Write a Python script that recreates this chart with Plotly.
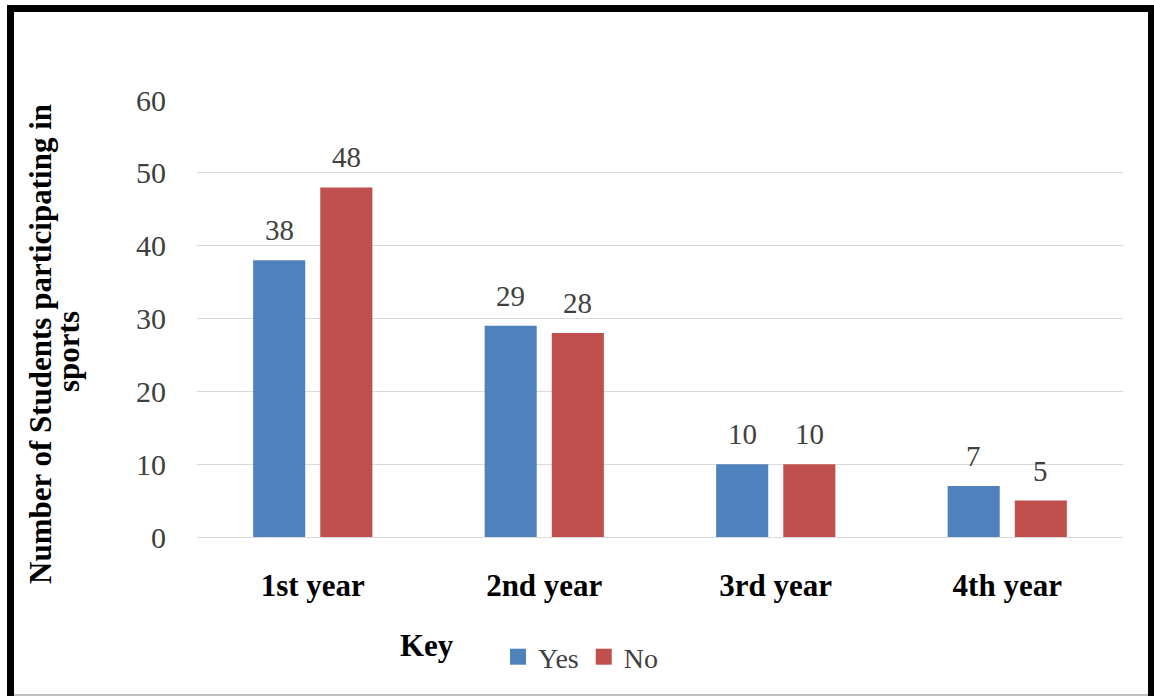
import plotly.graph_objects as go

years = ["1st year", "2nd year", "3rd year", "4th year"]
yes_counts = [38, 29, 10, 7]
no_counts = [48, 28, 10, 5]
y_ticks = [0, 10, 20, 30, 40, 50, 60]

W, H = 1154, 696
L, R, T, B = 197, 31, 100, 159
plot_w = W - L - R
plot_h = H - T - B

serif = "Liberation Serif"
grey_text = "#404040"
BLUE, RED = "#4F81BD", "#C0504D"

# bar geometry (fractions of a category slot)
BARGAP, GROUPGAP = 0.42, 0.224


def px_x(v):
    return (v - L) / plot_w


def px_y(v):
    return (T + plot_h - v) / plot_h


fig = go.Figure()
for name, counts, color in (("Yes", yes_counts, BLUE), ("No", no_counts, RED)):
    fig.add_trace(go.Bar(x=years, y=counts, name=name, legendgroup=name,
                         showlegend=False,
                         marker=dict(color=color, line=dict(width=0))))
    # legend entry with a larger square swatch
    fig.add_trace(go.Scatter(x=[None], y=[None], mode="markers", name=name,
                             legendgroup=name,
                             marker=dict(symbol="square", size=16, color=color)))

# value labels above each bar
slot_px = plot_w / len(years)
half_group = slot_px * (1 - BARGAP) / 2
for series, shift in ((yes_counts, -half_group / 2), (no_counts, half_group / 2)):
    for cat, val in zip(years, series):
        fig.add_annotation(
            x=cat, y=val, xref="x", yref="y",
            text=str(val), showarrow=False,
            xanchor="center", yanchor="bottom",
            xshift=shift, yshift=12,
            font=dict(family=serif, size=29, color=grey_text),
        )

fig.update_layout(
    width=W, height=H,
    margin=dict(l=L, r=R, t=T, b=B),
    paper_bgcolor="white", plot_bgcolor="white",
    barmode="group", bargap=BARGAP, bargroupgap=GROUPGAP,
    font=dict(family=serif, color=grey_text),
    showlegend=True,
    legend=dict(
        orientation="h",
        x=px_x(498), xanchor="left",
        y=px_y(657), yanchor="middle",
        font=dict(family=serif, size=28, color=grey_text),
        itemwidth=30, itemsizing="trace", tracegroupgap=0,
        bgcolor="rgba(0,0,0,0)",
    ),
    xaxis=dict(
        showgrid=False, showline=False, zeroline=False,
        ticks="", ticklabelstandoff=27,
        tickfont=dict(family=serif, size=31, color="black", weight="bold"),
    ),
    yaxis=dict(
        range=[0, 60], tickvals=y_ticks,
        showgrid=True, gridcolor="#D9D9D9", gridwidth=1,
        zeroline=True, zerolinecolor="#D9D9D9", zerolinewidth=1,
        showline=False, ticks="", ticklabelstandoff=30,
        tickfont=dict(family=serif, size=30, color=grey_text),
    ),
)

# Rotated axis title, two lines
for txt, cx, cy in (("Number of Students participating in", 40, 344),
                    ("sports", 68, 352)):
    fig.add_annotation(
        text=txt, xref="paper", yref="paper",
        x=px_x(cx), y=px_y(cy),
        xanchor="center", yanchor="middle",
        textangle=-90, showarrow=False,
        font=dict(family=serif, size=31, color="black", weight="bold"),
    )

# Legend caption
fig.add_annotation(
    text="Key", xref="paper", yref="paper",
    x=px_x(427), y=px_y(645),
    xanchor="center", yanchor="middle", showarrow=False,
    font=dict(family=serif, size=31, color="black", weight="bold"),
)

# Frame around the chart
frame = dict(xref="paper", yref="paper", type="line")
fig.add_shape(**frame, x0=px_x(10.5), x1=px_x(10.5), y0=px_y(5), y1=px_y(700),
              line=dict(color="black", width=7))
fig.add_shape(**frame, x0=px_x(7), x1=px_x(1154), y0=px_y(8.5), y1=px_y(8.5),
              line=dict(color="black", width=7))
fig.add_shape(**frame, x0=px_x(1151), x1=px_x(1151), y0=px_y(5), y1=px_y(700),
              line=dict(color="black", width=6))
fig.add_shape(**frame, x0=px_x(14), x1=px_x(1148), y0=px_y(695), y1=px_y(695),
              line=dict(color="#BFBFBF", width=2))

fig.write_html("out.html")
